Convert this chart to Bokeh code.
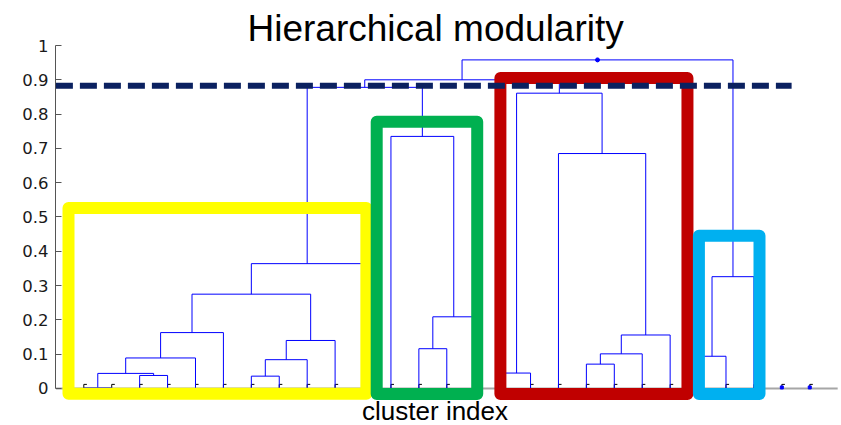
from bokeh.plotting import figure
from bokeh.models import Range1d, FixedTicker, CustomJSTickFormatter, BoxAnnotation
from bokeh.core.properties import value
from bokeh.embed import file_html
from bokeh.resources import INLINE

# ---------------- data ----------------
TITLE = "Hierarchical modularity"
XLABEL = "cluster index"

leaves = list(range(1, 28))            # leaf positions 1..27
unlinked_leaves = [26, 27]             # leaves with no visible link

# merges: child a, child b, merge height  ("L#" = leaf, "N#" = earlier merge)
merge_a = ["L1", "L3", "N0", "N2", "N3", "L7", "N5", "N6", "N4", "N8",
           "L13", "N10", "L12", "N9", "L16", "L19", "N15", "N16", "L18", "N14",
           "N13", "L23", "N21", "N20"]
merge_b = ["L2", "L4", "N1", "L5", "L6", "L8", "L9", "L10", "N7", "L11",
           "L14", "L15", "N11", "N12", "L17", "L20", "L21", "L22", "N17", "N18",
           "N19", "L24", "L25", "N22"]
merge_h = [0.002, 0.038, 0.044, 0.089, 0.163, 0.036, 0.084, 0.140, 0.275, 0.364,
           0.116, 0.209, 0.735, 0.878, 0.045, 0.071, 0.101, 0.156, 0.685, 0.861,
           0.900, 0.094, 0.326, 0.958]

cut_height = 0.883
cut_end = 26.35

y_ticks = [0, 0.1, 0.2, 0.3, 0.4, 0.5, 0.6, 0.7, 0.8, 0.9, 1]

# highlighted module boxes (data units)
box_left = [0.452, 15.92, 11.49, 23.03]
box_right = [11.12, 22.62, 15.09, 25.20]
box_top = [0.526, 0.905, 0.778, 0.445]
box_bottom = [-0.0155, -0.016, -0.016, -0.016]
box_color = ["#FFFF00", "#C00000", "#00B050", "#00B0F0"]

# ---------------- build tree segments ----------------
pos = {f"L{k}": float(k) for k in leaves}
hgt = {f"L{k}": 0.0 for k in leaves}
x0s, y0s, x1s, y1s = [], [], [], []
for i, (a, b, h) in enumerate(zip(merge_a, merge_b, merge_h)):
    xa, xb = pos[a], pos[b]
    x0s += [xa, xa, xb]
    y0s += [hgt[a], h, hgt[b]]
    x1s += [xa, xb, xb]
    y1s += [h, h, h]
    pos[f"N{i}"] = (xa + xb) / 2
    hgt[f"N{i}"] = h
root = f"N{len(merge_h) - 1}"

# ---------------- figure ----------------
p = figure(width=841, height=425, output_backend="svg", toolbar_location=None,
           title=None, x_axis_location=None,
           x_range=Range1d(-0.014, 28.137), y_range=Range1d(-0.1079, 1.1312),
           min_border_left=55, min_border_right=0, min_border_top=0, min_border_bottom=0)
p.outline_line_color = None
p.grid.visible = False
p.background_fill_color = "white"
p.border_fill_color = "white"

ax = p.yaxis[0]
ax.ticker = FixedTicker(ticks=y_ticks)
ax.formatter = CustomJSTickFormatter(code="return String(Math.round(tick*10)/10);")
ax.bounds = (0, 1)
ax.major_tick_in = 6
ax.major_tick_out = 0
ax.minor_tick_in = 0
ax.minor_tick_out = 0
ax.axis_line_color = "#555555"
ax.major_tick_line_color = "#555555"
ax.major_label_standoff = 7
ax.major_label_text_font = "DejaVu Sans"
ax.major_label_text_font_size = "16.5px"
ax.major_label_text_color = "#1a1a1a"

# x baseline
p.segment(x0=[0], y0=[0], x1=[28], y1=[0], line_color="#a6a6a6", line_width=2)

# leaf tick marks
p.segment(x0=leaves, y0=[0] * len(leaves), x1=leaves, y1=[0.012] * len(leaves),
          line_color="black", line_width=1)
p.segment(x0=leaves, y0=[0.012] * len(leaves), x1=[k + 0.11 for k in leaves],
          y1=[0.012] * len(leaves), line_color="black", line_width=1)

# dendrogram
p.segment(x0=x0s, y0=y0s, x1=x1s, y1=y1s, line_color="#0000FF", line_width=1)
p.scatter(x=[pos[root]], y=[hgt[root]], size=4, color="#0000FF", marker="circle")
p.scatter(x=unlinked_leaves, y=[0.003] * len(unlinked_leaves), size=3,
          color="#0000FF", marker="square")

# module boxes
for l, r, t, b, c in zip(box_left, box_right, box_top, box_bottom, box_color):
    p.add_layout(BoxAnnotation(left=l, right=r, top=t, bottom=b,
                               fill_color=None, fill_alpha=0,
                               line_color=c, line_width=12, line_alpha=1,
                               line_join="round"))

# cut line
p.segment(x0=[0], y0=[cut_height], x1=[cut_end], y1=[cut_height],
          line_color="#0B2160", line_width=6, line_dash="17 7", line_cap="butt",
          level="overlay")

# title and x label
p.text(x=[13.6], y=[1.0496], text=[TITLE], text_font=value("Liberation Sans"),
       text_font_size="37px", text_align="center", text_baseline="alphabetic",
       text_color="black")
p.text(x=[13.58], y=[-0.0655], text=[XLABEL], text_font=value("Liberation Sans"),
       text_font_size="26px", text_align="center", text_baseline="alphabetic",
       text_color="black")

open("out.html", "w").write(file_html(p, INLINE))
